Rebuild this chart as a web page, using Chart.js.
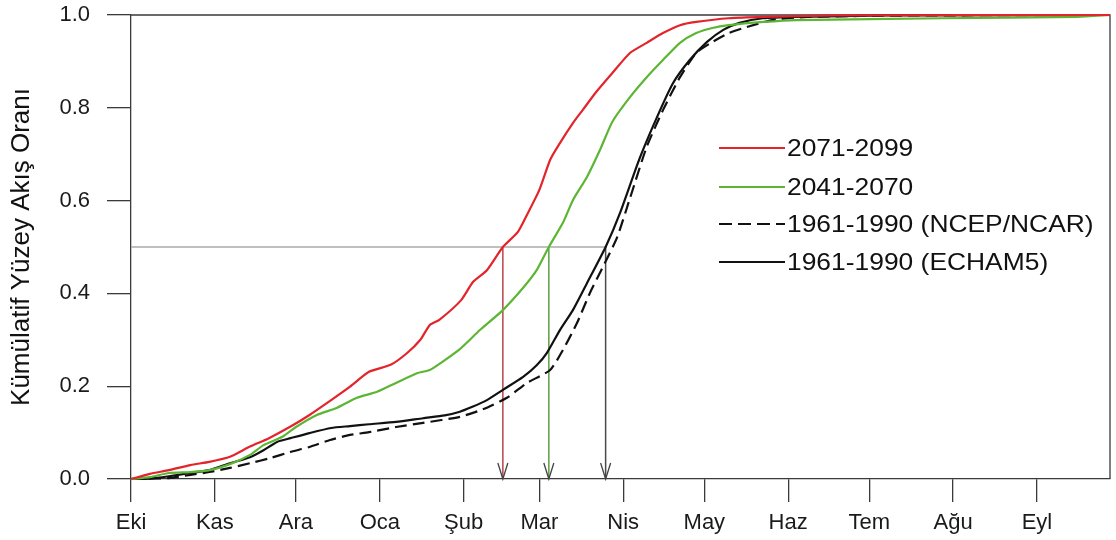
<!DOCTYPE html>
<html><head><meta charset="utf-8">
<script src="https://cdn.jsdelivr.net/npm/chart.js@4.4.1/dist/chart.umd.min.js"></script>
<style>html,body{margin:0;padding:0;background:#fff}canvas{display:block}</style>
</head><body>
<canvas id="c" width="1116" height="540"></canvas>
<script>
// ---- data ----
const monthLabels = ['Eki','Kas','Ara','Oca','Şub','Mar','Nis','May','Haz','Tem','Ağu','Eyl'];
const monthStartDays = [0,31,61,92,123,151,182,212,243,273,304,335];
const yTickValues = [0,0.2,0.4,0.6,0.8,1.0];
const seriesNames = ['2071-2099','2041-2070','1961-1990 (NCEP/NCAR)','1961-1990 (ECHAM5)'];
const yAxisTitle = 'Kümülatif Yüzey Akış Oranı';

const days2071 = [0,7,14,22,29,36.6,44,51,59,66,74,81,88,96,102,107,110.5,114,122,126.5,131.6,137.5,143,146.4,151,155,158.6,163.4,167,172,178,184.5,190.7,196.7,203,209,221,234,260,362];
const vals2071 = [0,0.011,0.019,0.030,0.037,0.048,0.070,0.088,0.113,0.138,0.170,0.199,0.231,0.246,0.271,0.300,0.332,0.343,0.385,0.425,0.450,0.500,0.532,0.569,0.623,0.688,0.724,0.767,0.795,0.834,0.875,0.918,0.940,0.961,0.978,0.985,0.993,0.996,0.999,1.0];

const days2041 = [0,7,14,22,29,36.6,44,49,56,61,68.7,76,83.5,91,98,105.7,110.5,115,121.6,129,137.5,145,150,154.5,159.7,163.4,168.6,173.4,178,184.5,190.7,196.7,203,209,215,221,234,246,300,350,362];
const vals2041 = [0,0.004,0.013,0.015,0.019,0.032,0.052,0.073,0.091,0.112,0.138,0.153,0.175,0.188,0.207,0.228,0.235,0.252,0.280,0.321,0.364,0.412,0.450,0.500,0.552,0.601,0.651,0.709,0.770,0.823,0.866,0.903,0.940,0.961,0.972,0.978,0.985,0.989,0.993,0.996,1.0];

const daysNcep = [0,14,22,29,36.6,44,51.4,58.8,66,73.6,81,88,98,108,121.6,130,139,146.4,155,159.7,164.9,169.7,174.5,179.7,184.5,190.7,196.7,203,209,215,221,227.7,237,250,290,362];
const valsNcep = [0,0.002,0.009,0.015,0.024,0.034,0.045,0.058,0.069,0.084,0.095,0.101,0.112,0.121,0.134,0.150,0.175,0.207,0.235,0.278,0.336,0.401,0.457,0.520,0.605,0.716,0.795,0.866,0.918,0.942,0.961,0.974,0.989,0.996,0.999,1.0];

const daysEcham = [0,7,14,22,29,36.6,44,49,54,59,66,74,81,88,98,108,116,121.6,126,131.6,137.5,145,150,153.8,158.6,163.4,168.6,175.5,180.8,188,194.5,200.4,206.6,213,219,225,233.6,246,280,362];
const valsEcham = [0,0.001,0.006,0.013,0.019,0.034,0.047,0.062,0.080,0.088,0.099,0.110,0.114,0.118,0.123,0.131,0.137,0.145,0.155,0.170,0.192,0.220,0.245,0.272,0.321,0.364,0.422,0.500,0.573,0.690,0.780,0.853,0.903,0.942,0.968,0.983,0.993,0.996,0.999,1.0];

const halfLevel = 0.5;
const halfDays = [137.5, 154.5, 175.5]; // 2071-2099, 2041-2070, 1961-1990

// ---- styles ----
const RED = '#e3242b', GREEN = '#5db534', BLACK = '#111111';
const FONT = '"Liberation Sans", Arial, sans-serif';
const zip = (xs, ys) => xs.map((x, i) => ({x, y: ys[i]}));

const curveBase = {pointRadius: 0, borderWidth: 2.2, tension: 0.2, fill: false, clip: 4};
const datasets = [
  {...curveBase, label: seriesNames[0], data: zip(days2071, vals2071), borderColor: RED},
  {...curveBase, label: seriesNames[1], data: zip(days2041, vals2041), borderColor: GREEN},
  {...curveBase, label: seriesNames[3], data: zip(daysEcham, valsEcham), borderColor: BLACK},
  {...curveBase, label: seriesNames[2], data: zip(daysNcep, valsNcep), borderColor: BLACK, borderDash: [12, 6]},
  {label: 'ref', data: [{x: 0, y: halfLevel}, {x: halfDays[2], y: halfLevel}], borderColor: '#aaaaaa', borderWidth: 1.5, pointRadius: 0},
  {label: 'a1', data: [{x: halfDays[0], y: halfLevel}, {x: halfDays[0], y: 0}], borderColor: '#b8464a', borderWidth: 1.5, pointRadius: 0},
  {label: 'a2', data: [{x: halfDays[1], y: halfLevel}, {x: halfDays[1], y: 0}], borderColor: '#5f9e45', borderWidth: 1.5, pointRadius: 0},
  {label: 'a3', data: [{x: halfDays[2], y: halfLevel}, {x: halfDays[2], y: 0}], borderColor: '#4a4a4a', borderWidth: 1.5, pointRadius: 0}
];

const AXIS = '#3a3a3a';

const framePlugin = {
  id: 'frame',
  beforeDatasetsDraw(chart) {
    const {ctx, chartArea: a} = chart;
    ctx.save();
    ctx.strokeStyle = AXIS; ctx.lineWidth = 1.3;
    ctx.beginPath();
    ctx.moveTo(a.left, a.top); ctx.lineTo(a.right, a.top); ctx.lineTo(a.right, a.bottom);
    ctx.stroke();
    ctx.restore();
  },
  afterDatasetsDraw(chart) {
    const {ctx, scales: {x, y}} = chart;
    ctx.save();
    ctx.strokeStyle = '#444'; ctx.lineWidth = 1.3;
    halfDays.forEach(d => {
      const px = x.getPixelForValue(d), py = y.getPixelForValue(0);
      ctx.beginPath();
      ctx.moveTo(px - 5, py - 16); ctx.lineTo(px, py); ctx.lineTo(px + 5, py - 16);
      ctx.stroke();
    });
    ctx.restore();
  },
  afterDraw(chart) {
    const {ctx} = chart;
    const rows = [
      {t: seriesNames[0], c: RED, dash: []},
      {t: seriesNames[1], c: GREEN, dash: []},
      {t: seriesNames[2], c: BLACK, dash: [13, 6]},
      {t: seriesNames[3], c: BLACK, dash: []}
    ];
    const rowY = [148, 187, 224, 262];
    ctx.save();
    rows.forEach((r, i) => {
      ctx.strokeStyle = r.c; ctx.lineWidth = 2.2; ctx.setLineDash(r.dash);
      ctx.beginPath(); ctx.moveTo(719, rowY[i]); ctx.lineTo(785, rowY[i]); ctx.stroke();
      ctx.setLineDash([]);
      ctx.save();
      ctx.translate(787, rowY[i]);
      ctx.scale(1.1, 1);
      ctx.fillStyle = '#111';
      ctx.font = '24px ' + FONT;
      ctx.textBaseline = 'middle';
      ctx.fillText(r.t, 0, 1);
      ctx.restore();
    });
    ctx.restore();
  }
};

new Chart(document.getElementById('c'), {
  type: 'line',
  data: {datasets},
  plugins: [framePlugin],
  options: {
    responsive: false,
    devicePixelRatio: 1,
    animation: false,
    layout: {padding: {left: 0, right: 6, top: 15, bottom: 0}},
    plugins: {legend: {display: false}, tooltip: {enabled: false}},
    scales: {
      x: {
        type: 'linear', min: 0, max: 362,
        afterBuildTicks: s => { s.ticks = monthStartDays.map(v => ({value: v})); },
        afterFit: s => { s.height = 61; s.paddingLeft = 0; s.paddingRight = 0; },
        ticks: {
          callback: (v) => monthLabels[monthStartDays.indexOf(v)] ?? '',
          autoSkip: false, maxRotation: 0, padding: 8,
          color: '#1a1a1a', font: {family: FONT, size: 22}
        },
        grid: {drawOnChartArea: false, drawTicks: true, tickLength: 23, color: AXIS, lineWidth: 1.3},
        border: {display: true, color: AXIS, width: 1.3}
      },
      y: {
        type: 'linear', min: 0, max: 1,
        afterBuildTicks: s => { s.ticks = yTickValues.map(v => ({value: v})); },
        afterFit: s => { s.width = 131; s.paddingTop = 0; s.paddingBottom = 0; },
        ticks: {
          callback: v => Number(v).toFixed(1),
          padding: 17,
          color: '#1a1a1a', font: {family: FONT, size: 22}
        },
        grid: {drawOnChartArea: false, drawTicks: true, tickLength: 24, color: AXIS, lineWidth: 1.3},
        border: {display: true, color: AXIS, width: 1.3},
        title: {
          display: true, text: yAxisTitle, color: '#111',
          font: {family: FONT, size: 26, lineHeight: 1},
          padding: {top: 9, bottom: 0}
        }
      }
    }
  }
});
</script>
</body></html>
